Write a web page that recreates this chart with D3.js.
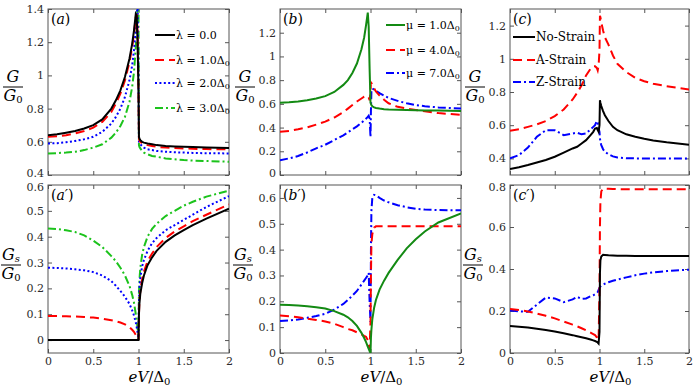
<!DOCTYPE html>
<html>
<head>
<meta charset="utf-8">
<script src="https://cdn.jsdelivr.net/npm/d3@7"></script>
<style>
  body { margin: 0; background: #fff; }
  svg, svg text { font-family: "DejaVu Serif", serif; }
  .tick text { fill: #2b2b2b; }
  .tick line { stroke: #555; }
</style>
</head>
<body>
<div id="main"></div>
<script>
// shared energy grid eV/Delta0 (dense around the gap edge)
const eV = [0, 0.1, 0.2, 0.3, 0.4, 0.5, 0.6, 0.7, 0.75, 0.8, 0.85, 0.9, 0.93, 0.95, 0.97, 0.98, 0.99, 1.0,
            1.005, 1.01, 1.02, 1.04, 1.06, 1.1, 1.15, 1.2, 1.3, 1.4, 1.5, 1.6, 1.75, 2.0];

// (a) G/G0 for lambda
const aLam0 = [0.64, 0.645, 0.655, 0.665, 0.68, 0.70, 0.735, 0.80, 0.85, 0.91, 0.99, 1.10, 1.19, 1.27, 1.37, 1.36, 1.2, 0.9,
               0.63, 0.62, 0.61, 0.60, 0.595, 0.59, 0.585, 0.58, 0.575, 0.572, 0.57, 0.568, 0.566, 0.563];
const aLam1 = [0.63, 0.633, 0.64, 0.65, 0.665, 0.685, 0.72, 0.78, 0.83, 0.89, 0.97, 1.08, 1.17, 1.25, 1.35, 1.37, 1.25, 0.9,
               0.62, 0.61, 0.60, 0.59, 0.585, 0.58, 0.575, 0.57, 0.565, 0.562, 0.56, 0.558, 0.556, 0.555];
const aLam2 = [0.59, 0.592, 0.597, 0.605, 0.615, 0.63, 0.66, 0.71, 0.75, 0.80, 0.87, 0.97, 1.06, 1.15, 1.28, 1.36, 1.42, 1.0,
               0.60, 0.595, 0.585, 0.575, 0.565, 0.555, 0.55, 0.545, 0.54, 0.537, 0.535, 0.533, 0.531, 0.53];
const aLam3 = [0.53, 0.532, 0.535, 0.54, 0.55, 0.565, 0.585, 0.625, 0.655, 0.695, 0.75, 0.84, 0.93, 1.02, 1.17, 1.28, 1.45, 1.45,
               0.58, 0.57, 0.56, 0.545, 0.535, 0.525, 0.515, 0.51, 0.50, 0.495, 0.49, 0.487, 0.484, 0.48];

// (a') Gs/G0 for lambda
const sLam0 = [0, 0, 0, 0, 0, 0, 0, 0, 0, 0, 0, 0, 0, 0, 0, 0, 0, 0,
               0.1, 0.14, 0.18, 0.22, 0.25, 0.29, 0.32, 0.345, 0.38, 0.405, 0.425, 0.445, 0.47, 0.508];
const sLam1 = [0.093, 0.093, 0.092, 0.091, 0.089, 0.087, 0.083, 0.077, 0.073, 0.068, 0.061, 0.05, 0.04, 0.032, 0.02, 0.014, 0.007, 0,
               0.1, 0.15, 0.19, 0.235, 0.265, 0.305, 0.335, 0.36, 0.395, 0.42, 0.44, 0.46, 0.485, 0.525];
const sLam2 = [0.28, 0.279, 0.277, 0.274, 0.27, 0.263, 0.25, 0.228, 0.21, 0.19, 0.168, 0.14, 0.115, 0.095, 0.068, 0.05, 0.03, 0,
               0.15, 0.2, 0.24, 0.285, 0.31, 0.345, 0.375, 0.395, 0.425, 0.445, 0.465, 0.485, 0.515, 0.557];
const sLam3 = [0.432, 0.43, 0.425, 0.418, 0.405, 0.385, 0.36, 0.325, 0.305, 0.28, 0.25, 0.21, 0.175, 0.145, 0.1, 0.075, 0.045, 0,
               0.18, 0.23, 0.28, 0.33, 0.36, 0.4, 0.43, 0.45, 0.48, 0.5, 0.52, 0.535, 0.555, 0.578];

// (b) G/G0 for mu
const bMu1 = [0.61, 0.613, 0.62, 0.63, 0.645, 0.665, 0.70, 0.76, 0.80, 0.86, 0.94, 1.06, 1.16, 1.26, 1.37, 1.25, 0.9, 0.61,
              0.6, 0.59, 0.58, 0.57, 0.565, 0.56, 0.555, 0.552, 0.55, 0.548, 0.546, 0.545, 0.543, 0.54];
const bMu4 = [0.365, 0.372, 0.385, 0.402, 0.425, 0.45, 0.485, 0.53, 0.56, 0.59, 0.62, 0.645, 0.66, 0.665, 0.665, 0.655, 0.63, 0.7,
              0.78, 0.775, 0.76, 0.73, 0.705, 0.67, 0.635, 0.605, 0.575, 0.56, 0.548, 0.537, 0.522, 0.508];
const bMu7 = [0.125, 0.14, 0.16, 0.19, 0.225, 0.255, 0.295, 0.335, 0.36, 0.385, 0.41, 0.44, 0.46, 0.475, 0.49, 0.5, 0.48, 0.32,
              0.55, 0.7, 0.73, 0.72, 0.71, 0.69, 0.67, 0.65, 0.625, 0.605, 0.59, 0.58, 0.57, 0.56];

// (b') Gs/G0 for mu
const sMu1 = [0.187, 0.186, 0.184, 0.181, 0.177, 0.172, 0.162, 0.148, 0.138, 0.124, 0.105, 0.078, 0.058, 0.043, 0.025, 0.016, 0.007, 0,
              0.06, 0.09, 0.13, 0.175, 0.205, 0.245, 0.28, 0.31, 0.36, 0.405, 0.44, 0.47, 0.505, 0.54];
const sMu4 = [0.145, 0.142, 0.138, 0.133, 0.128, 0.122, 0.113, 0.1, 0.093, 0.088, 0.08, 0.072, 0.066, 0.063, 0.05, 0.03, 0.015, 0.12,
              0.3, 0.42, 0.46, 0.485, 0.49, 0.49, 0.49, 0.49, 0.49, 0.49, 0.49, 0.49, 0.49, 0.49];
const sMu7 = [0.124, 0.126, 0.13, 0.136, 0.143, 0.152, 0.168, 0.19, 0.205, 0.222, 0.24, 0.265, 0.28, 0.29, 0.3, 0.31, 0.2, 0.12,
              0.4, 0.55, 0.6, 0.612, 0.61, 0.6, 0.59, 0.583, 0.572, 0.564, 0.558, 0.555, 0.553, 0.552];

// (c) G/G0 for strain
const cNo = [0.336, 0.347, 0.36, 0.375, 0.39, 0.41, 0.435, 0.46, 0.47, 0.49, 0.51, 0.54, 0.56, 0.58, 0.583, 0.57, 0.56, 0.6,
             0.75, 0.735, 0.715, 0.685, 0.66, 0.625, 0.59, 0.57, 0.545, 0.53, 0.518, 0.508, 0.497, 0.482];
const cA = [0.567, 0.575, 0.59, 0.605, 0.625, 0.655, 0.695, 0.755, 0.795, 0.84, 0.9, 0.94, 0.955, 0.955, 0.945, 0.93, 0.96, 1.05,
            1.26, 1.25, 1.22, 1.17, 1.13, 1.085, 1.02, 0.97, 0.92, 0.885, 0.865, 0.85, 0.835, 0.815];
const cZ = [0.40, 0.42, 0.465, 0.53, 0.57, 0.57, 0.54, 0.55, 0.555, 0.545, 0.55, 0.575, 0.59, 0.6, 0.625, 0.615, 0.58, 0.56,
            0.52, 0.5, 0.48, 0.455, 0.44, 0.425, 0.412, 0.405, 0.401, 0.40, 0.40, 0.40, 0.40, 0.40];

// (c') Gs/G0 for strain
const sNo = [0.128, 0.125, 0.121, 0.116, 0.11, 0.102, 0.094, 0.085, 0.08, 0.075, 0.07, 0.064, 0.06, 0.057, 0.053, 0.05, 0.045, 0.1,
             0.38, 0.44, 0.46, 0.468, 0.467, 0.465, 0.464, 0.463, 0.463, 0.462, 0.462, 0.462, 0.462, 0.462];
const sA = [0.21, 0.205, 0.198, 0.188, 0.177, 0.165, 0.15, 0.135, 0.127, 0.118, 0.108, 0.097, 0.09, 0.085, 0.075, 0.068, 0.06, 0.3,
            0.6, 0.72, 0.77, 0.783, 0.783, 0.782, 0.781, 0.78, 0.78, 0.78, 0.78, 0.78, 0.78, 0.78];
const sZ = [0.203, 0.198, 0.196, 0.23, 0.264, 0.26, 0.242, 0.255, 0.267, 0.258, 0.26, 0.27, 0.275, 0.28, 0.285, 0.29, 0.3, 0.31,
            0.315, 0.317, 0.32, 0.325, 0.33, 0.337, 0.344, 0.35, 0.36, 0.37, 0.378, 0.384, 0.39, 0.397];

const xTicks = [0, 0.5, 1, 1.5, 2];
const lamLabels = ['0.0', '1.0', '2.0', '3.0'];
const muLabels = ['1.0', '4.0', '7.0'];
const strainLabels = ['No-Strain', 'A-Strain', 'Z-Strain'];

const width = 698;
const height = 387;
const FONT = '"DejaVu Serif", serif';

const BLACK = '#000', RED = '#ff0000', BLUE = '#0000ff', GREEN = '#1cc31c', DGREEN = '#138a13';
const SOLID = null, DASH = '9,5', DOT = '2,2.4', DASHDOT = '8,3,2,3';

const svg = d3.select('#main')
  .append('svg')
  .attr('width', width)
  .attr('height', height)
  .attr('font-family', FONT);

const cols = [[48, 229], [280, 461], [510, 689]];
const rows = [[9, 175], [185, 353]];

const panels = [
  { col: 0, row: 0, tag: 'a', dom: [0.4, 1.4], ticks: [0.4, 0.6, 0.8, 1, 1.2, 1.4], sub: '',
    series: [[aLam0, BLACK, SOLID], [aLam1, RED, DASH], [aLam2, BLUE, DOT], [aLam3, GREEN, DASHDOT]],
    legend: { x: 155, len: 20, ys: [35, 60, 83, 108], size: 11,
              labels: lamLabels.map((l, i) => ['λ = ', l, i > 0]) } },
  { col: 1, row: 0, tag: 'b', dom: [0, 1.4], ticks: [0, 0.2, 0.4, 0.6, 0.8, 1, 1.2], sub: '',
    series: [[bMu1, DGREEN, SOLID], [bMu4, RED, DASH], [bMu7, BLUE, DASHDOT]],
    legend: { x: 386, len: 19, ys: [25, 50, 73], size: 11,
              labels: muLabels.map(l => ['μ = ', l, true]) } },
  { col: 2, row: 0, tag: 'c', dom: [0.3, 1.3], ticks: [0.4, 0.6, 0.8, 1, 1.2], sub: '',
    series: [[cNo, BLACK, SOLID], [cA, RED, DASH], [cZ, BLUE, DASHDOT]],
    legend: { x: 513, len: 22, ys: [37, 60, 82], size: 12,
              labels: strainLabels.map(l => [l, null, false]) } },
  { col: 0, row: 1, tag: 'a′', dom: [-0.05, 0.6], ticks: [0, 0.1, 0.2, 0.3, 0.4, 0.5, 0.6], sub: 's',
    series: [[sLam0, BLACK, SOLID], [sLam1, RED, DASH], [sLam2, BLUE, DOT], [sLam3, GREEN, DASHDOT]] },
  { col: 1, row: 1, tag: 'b′', dom: [0, 0.65], ticks: [0, 0.1, 0.2, 0.3, 0.4, 0.5, 0.6], sub: 's',
    series: [[sMu1, DGREEN, SOLID], [sMu4, RED, DASH], [sMu7, BLUE, DASHDOT]] },
  { col: 2, row: 1, tag: 'c′', dom: [0, 0.8], ticks: [0, 0.2, 0.4, 0.6, 0.8], sub: 's',
    series: [[sNo, BLACK, SOLID], [sA, RED, DASH], [sZ, BLUE, DASHDOT]] }
];

const fmt = d => String(+d.toFixed(2));
const ylabX = [13, 245, 475];

panels.forEach((p, idx) => {
  const [x0, x1] = cols[p.col];
  const [y0, y1] = rows[p.row];
  const xScale = d3.scaleLinear().domain([0, 2]).range([x0, x1]);
  const yScale = d3.scaleLinear().domain(p.dom).range([y1, y0]);

  const g = svg.append('g');

  const clipId = 'clip' + idx;
  svg.append('clipPath').attr('id', clipId)
    .append('rect').attr('x', x0).attr('y', y0).attr('width', x1 - x0).attr('height', y1 - y0);

  // axes, ticks pointing inward on all four sides
  const left = g.append('g').attr('transform', `translate(${x0},0)`)
    .call(d3.axisLeft(yScale).tickValues(p.ticks).tickFormat(fmt).tickSize(-4).tickPadding(4));
  const right = g.append('g').attr('transform', `translate(${x1},0)`)
    .call(d3.axisRight(yScale).tickValues(p.ticks).tickFormat('').tickSize(-4));
  const bottom = g.append('g').attr('transform', `translate(0,${y1})`)
    .call(d3.axisBottom(xScale).tickValues(xTicks).tickFormat(p.row === 1 ? fmt : '').tickSize(-4).tickPadding(4));
  const top = g.append('g').attr('transform', `translate(0,${y0})`)
    .call(d3.axisTop(xScale).tickValues(xTicks).tickFormat('').tickSize(-4));
  [left, right, bottom, top].forEach(a => {
    a.select('.domain').remove();
    a.attr('font-family', FONT).attr('font-size', 11);
  });
  // keep the labels at the shared edge between rows apart
  const edgeVal = p.row === 0 ? p.dom[0] : p.dom[1];
  left.selectAll('.tick text')
    .filter(d => Math.abs(d - edgeVal) < 1e-9)
    .attr('y', p.row === 0 ? -2 : 2);

  g.append('rect')
    .attr('x', x0).attr('y', y0).attr('width', x1 - x0).attr('height', y1 - y0)
    .attr('fill', 'none').attr('stroke', '#555').attr('stroke-width', 1);

  const lineGenerator = d3.line()
    .x((d, i) => xScale(eV[i]))
    .y(d => yScale(d));

  const plot = g.append('g').attr('clip-path', `url(#${clipId})`);
  p.series.slice().reverse().forEach(([vals, color, dash]) => {
    plot.append('path')
      .attr('d', lineGenerator(vals))
      .attr('fill', 'none')
      .attr('stroke', color)
      .attr('stroke-width', 2)
      .attr('stroke-dasharray', dash);
  });

  // panel tag
  const tag = g.append('text').attr('x', x0 + 3).attr('y', y0 + 15).attr('font-size', 14);
  tag.append('tspan').text('(');
  tag.append('tspan').attr('font-style', 'italic').text(p.tag);
  tag.append('tspan').text(')');

  // y label as fraction
  const cx = ylabX[p.col] - (p.sub ? 2 : 0);
  const cy = p.row === 0 ? 87 : 265;
  const num = g.append('text').attr('x', cx).attr('y', cy - 5).attr('text-anchor', 'middle')
    .attr('font-size', 16).attr('font-style', 'italic').text('G');
  if (p.sub) num.append('tspan').attr('font-size', 10).attr('dy', 2).text(p.sub);
  g.append('line').attr('x1', cx - 10).attr('x2', cx + 10).attr('y1', cy).attr('y2', cy)
    .attr('stroke', '#000').attr('stroke-width', 1);
  const den = g.append('text').attr('x', cx).attr('y', cy + 14).attr('text-anchor', 'middle')
    .attr('font-size', 16).attr('font-style', 'italic').text('G');
  den.append('tspan').attr('font-size', 10).attr('font-style', 'normal').attr('dy', 2).text('0');

  // x label
  if (p.row === 1) {
    const xl = g.append('text').attr('x', (x0 + x1) / 2 + 11).attr('y', 382)
      .attr('text-anchor', 'middle').attr('font-size', 15);
    xl.append('tspan').attr('font-style', 'italic').text('eV');
    xl.append('tspan').text('/Δ');
    xl.append('tspan').attr('font-size', 10).attr('dy', 3).text('0');
  }

  // legend
  if (p.legend) {
    const L = p.legend;
    p.series.forEach(([vals, color, dash], i) => {
      const y = L.ys[i];
      g.append('line').attr('x1', L.x).attr('x2', L.x + L.len).attr('y1', y).attr('y2', y)
        .attr('stroke', color).attr('stroke-width', 2).attr('stroke-dasharray', dash);
      const [pre, val, delta] = L.labels[i];
      const t = g.append('text').attr('x', L.x + L.len + 1).attr('y', y + 4).attr('font-size', L.size);
      t.append('tspan').text(pre);
      if (val !== null) t.append('tspan').text(val);
      if (delta) {
        t.append('tspan').text('Δ');
        t.append('tspan').attr('font-size', 8).attr('dy', 2).text('0');
      }
    });
  }
});
</script>
</body>
</html>
